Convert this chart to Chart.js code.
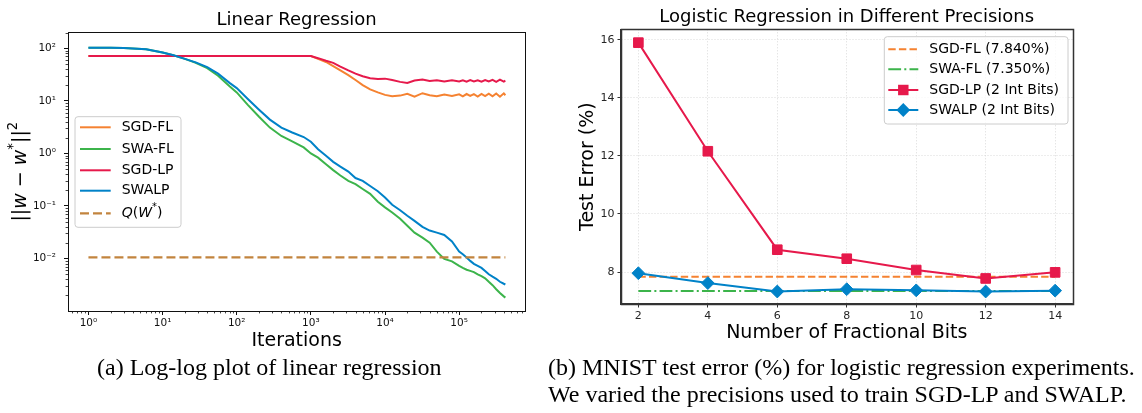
<!DOCTYPE html>
<html>
<head>
<meta charset="utf-8">
<script src="https://cdn.jsdelivr.net/npm/chart.js@4.4.1/dist/chart.umd.min.js"></script>
<style>
    html, body { margin: 0; padding: 0; background: #fff; }
    #page { position: relative; width: 1142px; height: 413px; overflow: hidden; background: #fff; }
    #leftChart { position: absolute; left: 0; top: 0; }
    #rightChart { position: absolute; left: 540px; top: 0; }
    .caption {
        position: absolute; top: 354px;
        font-family: "Liberation Serif", "Times New Roman", serif;
        font-size: 24px; line-height: 27px; color: #000; white-space: nowrap;
    }
</style>
</head>
<body>
<div id="page">
    <canvas id="leftChart" width="540" height="356"></canvas>
    <canvas id="rightChart" width="602" height="356"></canvas>
    <div class="caption" style="left:97px;">(a) Log-log plot of linear regression</div>
    <div class="caption" style="left:548px;">(b) MNIST test error (%) for logistic regression experiments.<br>We varied the precisions used to train SGD-LP and SWALP.</div>
</div>
<script>
// ---- (a) linear regression, log-log ----
const iterations = [1, 2, 3, 6, 10, 14, 20, 28, 40, 56, 80, 100, 140, 200, 280, 400, 560, 800,
    1000, 1250, 1600, 2000, 2500, 3200, 4000, 5000, 6300, 8000,
    10000, 12500, 16000, 20000, 25000, 32000, 40000, 50000, 63000, 80000,
    100000, 112000, 126000, 141000, 158000, 178000, 200000, 224000, 251000, 282000, 316000, 355000, 400000, 420000];
const sgdFl = [71.5, 71.5, 71.5, 71.5, 71.5, 71.5, 71.5, 71.5, 71.5, 71.5, 71.5, 71.5, 71.5, 71.5, 71.5, 71.5, 71.5, 71.5,
    71.5, 63, 55, 46, 38, 31, 25, 20, 16.5, 14.5,
    13, 12.3, 12.6, 13.6, 12, 14, 12.8, 12.3, 13.2, 12.4,
    13.3, 12.2, 13.5, 12.4, 13.4, 12.1, 13.6, 12.3, 13.7, 12.2, 13.8, 12.0, 13.9, 12.8];
const swaFl = [102.6, 102.5, 102, 96, 83, 74, 63, 53, 42, 30, 19, 14.5, 8.5, 5.0, 3.1, 2.15, 1.7, 1.3,
    1.0, 0.83, 0.62, 0.48, 0.38, 0.30, 0.26, 0.21, 0.17, 0.12,
    0.094, 0.075, 0.057, 0.042, 0.031, 0.025, 0.020, 0.0135, 0.0098, 0.0088,
    0.0072, 0.0066, 0.0061, 0.0058, 0.0055, 0.0050, 0.0046, 0.0042, 0.0036, 0.0031, 0.0026, 0.0022, 0.0019, 0.0018];
const sgdLp = [71.5, 71.5, 71.5, 71.5, 71.5, 71.5, 71.5, 71.5, 71.5, 71.5, 71.5, 71.5, 71.5, 71.5, 71.5, 71.5, 71.5, 71.5,
    71.5, 65, 58, 53, 45, 38, 33, 29.5, 27, 26,
    26.5, 25, 23, 22, 24.5, 25.5, 24, 24.6, 23.4, 24.6,
    23.5, 24.6, 23.2, 24.8, 23.5, 24.7, 23.3, 25, 23.4, 25.2, 23.1, 25.3, 23.3, 24.2];
const swalp = [102.6, 102.5, 102, 96, 83, 74, 63, 54, 44, 33, 22, 17.5, 11, 6.8, 4.4, 3.1, 2.5, 2.05,
    1.67, 1.2, 0.9, 0.69, 0.56, 0.45, 0.34, 0.30, 0.24, 0.19,
    0.145, 0.105, 0.083, 0.065, 0.052, 0.040, 0.034, 0.031, 0.028, 0.021,
    0.0135, 0.012, 0.0104, 0.0090, 0.0079, 0.0072, 0.0066, 0.0058, 0.0050, 0.0045, 0.0041, 0.0036, 0.0033, 0.0032];
const qIterations = [1, 420000];
const qLevel = [0.0105, 0.0105];
const leftXTicks = [1, 10, 100, 1000, 10000, 100000];
const leftYTicks = [0.01, 0.1, 1, 10, 100];

// ---- (b) logistic regression ----
const fracBits = [2, 4, 6, 8, 10, 12, 14];
const sgdLpErr = [15.9, 12.16, 8.77, 8.46, 8.07, 7.78, 7.99];
const swalpErr = [7.96, 7.62, 7.33, 7.41, 7.37, 7.33, 7.36];
const sgdFlErr = [7.84, 7.84];
const swaFlErr = [7.35, 7.35];
const rightXTicks = [2, 4, 6, 8, 10, 12, 14];
const rightYTicks = [8, 10, 12, 14, 16];

const FONT = "'DejaVu Sans', 'Liberation Sans', sans-serif";
const ORANGE = '#f58231', GREEN = '#3cb44b', RED = '#e6194b', BLUE = '#0082c8', BROWN = '#c2843e';

Chart.defaults.font.family = FONT;
Chart.defaults.color = '#000';

function supText(n) {
    const map = { '-': '\u207b', '0': '\u2070', '1': '\u00b9', '2': '\u00b2', '3': '\u00b3', '4': '\u2074',
        '5': '\u2075', '6': '\u2076', '7': '\u2077', '8': '\u2078', '9': '\u2079' };
    return String(n).split('').map((c) => map[c]).join('');
}

function powLabel(v) {
    return '10' + supText(Math.round(Math.log10(v)));
}

function segFont(seg, size) {
    const s = seg.sup ? size * 0.7 : size;
    return (seg.it ? 'italic ' : '') + s + 'px ' + FONT;
}

function richWidth(ctx, segs, size) {
    let w = 0;
    segs.forEach((seg) => { ctx.font = segFont(seg, size); w += ctx.measureText(seg.t).width; });
    return w;
}

function drawRich(ctx, segs, x, y, size) {
    ctx.textBaseline = 'middle';
    ctx.textAlign = 'left';
    ctx.fillStyle = '#000';
    let cx = x;
    segs.forEach((seg) => {
        ctx.font = segFont(seg, size);
        ctx.fillText(seg.t, cx, seg.sup ? y - size * 0.4 : y);
        cx += ctx.measureText(seg.t).width;
    });
}

function drawMarker(ctx, style, x, y, r, color) {
    ctx.fillStyle = color;
    ctx.beginPath();
    if (style === 'rect') {
        const h = r * Math.SQRT1_2;
        ctx.rect(x - h, y - h, 2 * h, 2 * h);
    } else {
        ctx.moveTo(x - r, y); ctx.lineTo(x, y - r); ctx.lineTo(x + r, y); ctx.lineTo(x, y + r); ctx.closePath();
    }
    ctx.fill();
}

function drawLegend(ctx, L) {
    ctx.save();
    const r = 3, x = L.x, y = L.y, w = L.w, h = L.h;
    ctx.beginPath();
    ctx.moveTo(x + r, y);
    ctx.arcTo(x + w, y, x + w, y + h, r);
    ctx.arcTo(x + w, y + h, x, y + h, r);
    ctx.arcTo(x, y + h, x, y, r);
    ctx.arcTo(x, y, x + w, y, r);
    ctx.closePath();
    ctx.fillStyle = 'rgba(255,255,255,0.8)';
    ctx.fill();
    ctx.strokeStyle = '#cccccc';
    ctx.lineWidth = 1;
    ctx.stroke();
    L.items.forEach((it, i) => {
        const ry = L.rows[i];
        ctx.setLineDash(it.dash || []);
        ctx.strokeStyle = it.color;
        ctx.lineWidth = it.width;
        ctx.beginPath();
        ctx.moveTo(L.x0, ry);
        ctx.lineTo(L.x1, ry);
        ctx.stroke();
        ctx.setLineDash([]);
        if (it.marker) drawMarker(ctx, it.marker, (L.x0 + L.x1) / 2, ry, it.radius, it.color);
        drawRich(ctx, it.label, L.textX, ry, L.fontSize);
    });
    ctx.restore();
}

function drawFrame(chart, color, width) {
    const { ctx, chartArea: a } = chart;
    ctx.save();
    ctx.strokeStyle = color;
    ctx.lineWidth = width;
    ctx.strokeRect(Math.round(a.left) + 0.5, Math.round(a.top) + 0.5, Math.round(a.right - a.left), Math.round(a.bottom - a.top));
    ctx.restore();
}

const leftExtras = {
    id: 'leftExtras',
    afterDraw(chart) {
        const { ctx } = chart;
        const xs = chart.scales.x, ys = chart.scales.y;
        drawFrame(chart, '#111', 1);
        // minor log ticks
        ctx.save();
        ctx.strokeStyle = '#111';
        ctx.lineWidth = 0.8;
        for (let d = -4; d <= 6; d++) {
            for (let m = 2; m <= 9; m++) {
                const v = m * Math.pow(10, d);
                ctx.beginPath();
                if (v > xs.min && v < xs.max) {
                    const px = Math.round(xs.getPixelForValue(v)) + 0.5;
                    ctx.moveTo(px, xs.top); ctx.lineTo(px, xs.top + 2.4);
                }
                if (v > ys.min && v < ys.max) {
                    const py = Math.round(ys.getPixelForValue(v)) + 0.5;
                    ctx.moveTo(ys.right, py); ctx.lineTo(ys.right - 2.4, py);
                }
                ctx.stroke();
            }
        }
        ctx.restore();
        // y axis label with math styling
        const segs = [{ t: '||' }, { t: 'w', it: true }, { t: ' \u2212 ' }, { t: 'w', it: true },
            { t: '*', sup: true }, { t: '||' }, { t: '2', sup: true }];
        ctx.save();
        const w = richWidth(ctx, segs, 19);
        ctx.translate(21, (chart.chartArea.top + chart.chartArea.bottom) / 2);
        ctx.rotate(-Math.PI / 2);
        drawRich(ctx, segs, -w / 2, 0, 19);
        ctx.restore();
        const ds = chart.data.datasets;
        drawLegend(ctx, {
            x: 75, y: 116.7, w: 106, h: 110.6, x0: 80, x1: 110.7, textX: 121.7, fontSize: 14,
            rows: [127.3, 149, 170.3, 190.7, 213.3],
            items: ds.map((d) => ({ color: d.borderColor, width: d.borderWidth, dash: d.borderDash, label: d.richLabel }))
        });
    }
};

const rightExtras = {
    id: 'rightExtras',
    afterDraw(chart) {
        drawFrame(chart, '#333', 1.5);
        const ds = chart.data.datasets;
        drawLegend(chart.ctx, {
            x: 344.3, y: 36.7, w: 183.7, h: 87.3, x0: 348.3, x1: 378.3, textX: 389.3, fontSize: 14,
            rows: [49.3, 69.3, 90, 110],
            items: ds.map((d) => ({
                color: d.borderColor, width: d.borderWidth, dash: d.borderDash, label: [{ t: d.label }],
                marker: d.pointRadius ? d.pointStyle : null, radius: d.pointStyle === 'rect' ? d.pointRadius + 0.6 : d.pointRadius + 0.5
            }))
        });
    }
};

function toPoints(xs, ys) {
    return xs.map((x, i) => ({ x, y: ys[i] }));
}

function leftSeries(label, richLabel, xs, ys, color, order, dash) {
    return {
        label, richLabel, data: toPoints(xs, ys), borderColor: color, backgroundColor: color,
        borderWidth: dash ? 2.2 : 2, borderDash: dash || [], pointRadius: 0, tension: 0, order
    };
}

new Chart(document.getElementById('leftChart'), {
    type: 'line',
    data: {
        datasets: [
            leftSeries('SGD-FL', [{ t: 'SGD-FL' }], iterations, sgdFl, ORANGE, 4),
            leftSeries('SWA-FL', [{ t: 'SWA-FL' }], iterations, swaFl, GREEN, 3),
            leftSeries('SGD-LP', [{ t: 'SGD-LP' }], iterations, sgdLp, RED, 2),
            leftSeries('SWALP', [{ t: 'SWALP' }], iterations, swalp, BLUE, 1),
            leftSeries('Q(W*)', [{ t: 'Q', it: true }, { t: '(' }, { t: 'W', it: true }, { t: '*', sup: true }, { t: ')' }],
                qIterations, qLevel, BROWN, 0, [9, 4])
        ]
    },
    options: {
        responsive: false,
        animation: false,
        devicePixelRatio: 1,
        events: [],
        layout: { padding: { left: 0, right: 14.7, top: 0, bottom: 0 } },
        plugins: {
            legend: { display: false },
            tooltip: { enabled: false },
            title: {
                display: true, fullSize: false, text: 'Linear Regression', color: '#000',
                font: { size: 18, weight: 'normal' }, padding: { top: 9.2, bottom: 1.5 }
            }
        },
        scales: {
            x: {
                type: 'logarithmic', min: 0.53, max: 7.8e5,
                afterBuildTicks: (s) => { s.ticks = leftXTicks.map((v) => ({ value: v })); },
                afterFit: (s) => { s.height = 356 - 311; },
                ticks: { callback: (v) => powLabel(v), autoSkip: false, maxRotation: 0, font: { size: 10.5 }, color: '#111', padding: 2 },
                grid: { drawOnChartArea: false, tickLength: 4, tickColor: '#111', tickWidth: 1 },
                border: { color: '#111', width: 1 },
                title: { display: true, text: 'Iterations', color: '#000', font: { size: 19 }, padding: { top: 0, bottom: 4 } }
            },
            y: {
                type: 'logarithmic', min: 0.001, max: 202,
                afterBuildTicks: (s) => { s.ticks = leftYTicks.map((v) => ({ value: v })); },
                afterFit: (s) => { s.width = 68; },
                ticks: { callback: (v) => powLabel(v), autoSkip: false, font: { size: 10.5 }, color: '#111', padding: 8 },
                grid: { drawOnChartArea: false, tickLength: 4, tickColor: '#111', tickWidth: 1 },
                border: { color: '#111', width: 1 }
            }
        }
    },
    plugins: [leftExtras]
});

const lastBit = fracBits[fracBits.length - 1];
new Chart(document.getElementById('rightChart'), {
    type: 'line',
    data: {
        datasets: [
            { label: 'SGD-FL (7.840%)', data: toPoints([fracBits[0], lastBit], sgdFlErr), borderColor: ORANGE, backgroundColor: ORANGE,
                borderWidth: 2, borderDash: [7.4, 3.2], pointRadius: 0, order: 3 },
            { label: 'SWA-FL (7.350%)', data: toPoints([fracBits[0], lastBit], swaFlErr), borderColor: GREEN, backgroundColor: GREEN,
                borderWidth: 2, borderDash: [12.8, 3.2, 2, 3.2], pointRadius: 0, order: 2 },
            { label: 'SGD-LP (2 Int Bits)', data: toPoints(fracBits, sgdLpErr), borderColor: RED, backgroundColor: RED,
                borderWidth: 2, pointStyle: 'rect', pointRadius: 6.8, pointBorderWidth: 1, pointBorderColor: RED, order: 1 },
            { label: 'SWALP (2 Int Bits)', data: toPoints(fracBits, swalpErr), borderColor: BLUE, backgroundColor: BLUE,
                borderWidth: 2, pointStyle: 'rectRot', pointRadius: 6.4, pointBorderWidth: 1, pointBorderColor: BLUE, order: 0 }
        ]
    },
    options: {
        responsive: false,
        animation: false,
        devicePixelRatio: 1,
        events: [],
        layout: { padding: { left: 0, right: 69.5, top: 0, bottom: 0 } },
        plugins: {
            legend: { display: false },
            tooltip: { enabled: false },
            title: {
                display: true, fullSize: false, text: 'Logistic Regression in Different Precisions', color: '#000',
                font: { size: 18, weight: 'normal' }, padding: { top: 6.5, bottom: 1.2 }
            }
        },
        scales: {
            x: {
                type: 'linear', min: 1.5, max: 14.5,
                afterBuildTicks: (s) => { s.ticks = rightXTicks.map((v) => ({ value: v })); },
                afterFit: (s) => { s.height = 356 - 304; },
                ticks: { autoSkip: false, maxRotation: 0, font: { size: 11 }, color: '#262626', padding: 2 },
                grid: { color: '#d0d0d0', lineWidth: 0.8, tickLength: 3.5, tickColor: '#333', tickWidth: 1 },
                border: { color: '#333', width: 1.5, dash: [1, 2] },
                title: { display: true, text: 'Number of Fractional Bits', color: '#000', font: { size: 19 }, padding: { top: 0, bottom: 11.6 } }
            },
            y: {
                type: 'linear', min: 6.9, max: 16.36,
                afterBuildTicks: (s) => { s.ticks = rightYTicks.map((v) => ({ value: v })); },
                afterFit: (s) => { s.width = 81; },
                ticks: { autoSkip: false, font: { size: 11 }, color: '#262626', padding: 3 },
                grid: { color: '#d0d0d0', lineWidth: 0.8, tickLength: 3.5, tickColor: '#333', tickWidth: 1 },
                border: { color: '#333', width: 1.5, dash: [1, 2] },
                title: { display: true, text: 'Test Error (%)', color: '#000', font: { size: 19 }, padding: { top: 36.6, bottom: 0 } }
            }
        }
    },
    plugins: [rightExtras]
});
</script>
</body>
</html>
